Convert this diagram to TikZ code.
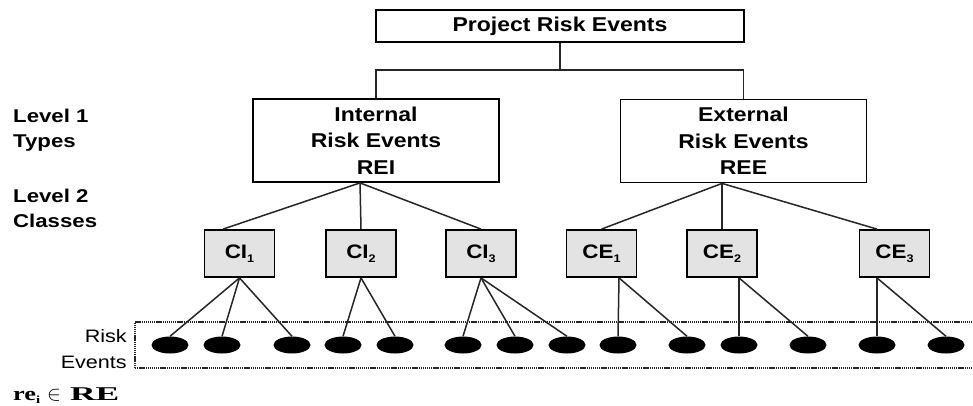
\documentclass[tikz,border=0pt]{standalone}
\usepackage{fontspec}
\usetikzlibrary{shapes.geometric}
\setmainfont{Liberation Sans}
\newfontfamily\boxfont{Liberation Sans}[FakeStretch=1.15]
\newfontfamily\labfont{Liberation Sans}[FakeStretch=1.2]
\newfontfamily\relfont{Liberation Serif}[FakeStretch=1.35]
\newcommand\subidx[1]{\raisebox{-3.5pt}{\fontsize{11}{11}\selectfont #1}}

\tikzset{
  toplevel/.style={draw, line width=2.8pt, minimum width=368pt, minimum height=32pt,
    inner sep=0pt, font=\boxfont\bfseries\fontsize{20}{24}\selectfont},
  typebox/.style={draw, line width=1.8pt, minimum width=246pt, minimum height=83pt,
    inner sep=0pt, align=center, font=\boxfont\bfseries\fontsize{20}{26.5}\selectfont},
  classbox/.style={draw, line width=1.8pt, fill=gray!22, minimum width=70pt,
    minimum height=47pt, inner sep=0pt, font=\boxfont\bfseries\fontsize{19.5}{22}\selectfont},
  event/.style={ellipse, fill=black, minimum width=37pt, minimum height=17pt, inner sep=0pt},
  link/.style={line width=1.5pt, black!85},
  band/.style={line width=2pt, black!85, dash pattern=on 1.3pt off 0.8pt},
  level/.style={anchor=base west, inner sep=0pt, font=\labfont\bfseries\fontsize{18.5}{22}\selectfont},
  evlabel/.style={anchor=base east, inner sep=0pt, font=\labfont\fontsize{18}{20}\selectfont},
}

\begin{document}
\begin{tikzpicture}[x=1pt, y=-1pt]
\useasboundingbox (0,0) rectangle (973,405);

% root and level-1 types
\node[toplevel] (root) at (560,26) {Project Risk Events};
\node[typebox] (rei) at (376,140.5) {Internal\\Risk Events\\REI};
\node[typebox] (ree) at (743.5,141) {External\\Risk Events\\REE};

% level-2 classes
\node[classbox] (ci1) at (239.5,253.5) {CI\subidx{1}};
\node[classbox] (ci2) at (361,253.5) {CI\subidx{2}};
\node[classbox] (ci3) at (481,253.5) {CI\subidx{3}};
\node[classbox] (ce1) at (601.5,253.5) {CE\subidx{1}};
\node[classbox] (ce2) at (722,253.5) {CE\subidx{2}};
\node[classbox] (ce3) at (894.5,253.5) {CE\subidx{3}};

% level labels
\node[level] (lv1a) at (13,122) {Level 1};
\node[level] (lv1b) at (13,147) {Types};
\node[level] (lv2a) at (13,202) {Level 2};
\node[level] (lv2b) at (13,227) {Classes};

% risk event band
\coordinate (bandTL) at (135,322);
\coordinate (bandBL) at (135,368);
\coordinate (bandTR) at (973,322);
\coordinate (bandBR) at (973,368);
\draw[band] (bandBL) -- (bandTL) -- (bandTR);
\draw[band] (bandBL) -- (bandBR);
\node[evlabel] (evr) at (127,342) {Risk};
\node[evlabel] (eve) at (127,368) {Events};

\foreach \x [count=\i] in {170,222,292,343,395,463,515,567,618,687,739,808,877,946}
  \node[event] (e\i) at (\x,345) {};

% tree connectors
\coordinate (bus) at (560,70);
\draw[link, line width=1.7pt] (root.south) -- (bus);
\draw[link, line width=1.7pt] (rei.north) |- (bus) -| (ree.north);

\coordinate (reiA) at ([xshift=-16pt]rei.south);
\coordinate (reeA) at ([xshift=-21.5pt]ree.south);
\draw[link] (reiA) -- ([xshift=-16.5pt]ci1.north);
\draw[link] (reiA) -- (ci2.north);
\draw[link] (reiA) -- (ci3.north);
\draw[link] (reeA) -- (ce1.north);
\draw[link] (reeA) -- (ce2.north);
\draw[link] (reeA) -- ([xshift=-17.5pt]ce3.north);

\foreach \j in {1,2,3} \draw[link] (ci1.south) -- (e\j.north);
\foreach \j in {4,5} \draw[link] (ci2.south) -- (e\j.north);
\foreach \j in {6,7,8} \draw[link] (ci3.south) -- (e\j.north);
\foreach \j in {9,10} \draw[link] ([xshift=17.5pt]ce1.south) -- (e\j.north);
\foreach \j in {11,12} \draw[link] ([xshift=17pt]ce2.south) -- (e\j.north);
\foreach \j in {13,14} \draw[link] ([xshift=-17.5pt]ce3.south) -- (e\j.north);

% set membership note
\node[anchor=base west, inner sep=0pt, font=\relfont\bfseries\fontsize{19.5}{22}\selectfont]
  (member) at (13,400) {re\subidx{i}\hspace{7pt}$\in$\hspace{9pt}\scalebox{1.35}[1]{RE}};
\end{tikzpicture}
\end{document}
